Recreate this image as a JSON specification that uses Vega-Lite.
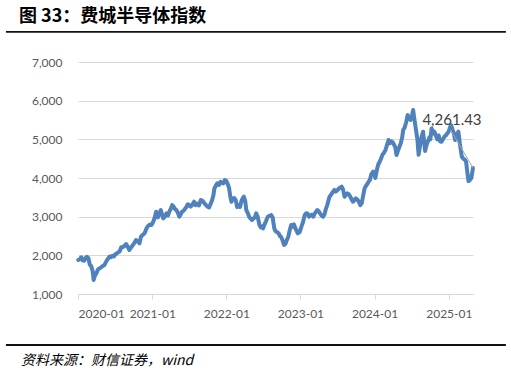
{
  "$schema": "https://vega.github.io/schema/vega-lite/v6.json",
  "padding": {"left": 5, "right": 1, "top": 8, "bottom": 0},
  "background": "white",
  "width": 395,
  "height": 232,
  "title": {"text": "图 33：费城半导体指数", "anchor": "start", "frame": "bounds", "dx": 13, "font": "Noto Sans CJK SC", "fontSize": 18, "fontWeight": "bold", "color": "#000000", "offset": 5},
  "config": {"view": {"stroke": null}, "font": "Lato", "axisY": {"labelOverlap": false, "tickCount": 7}},
  "datasets": {
    "sox": [
      {"date": "2020-01-02", "value": 1880}, {"date": "2020-01-10", "value": 1900}, {"date": "2020-01-17", "value": 1950}, {"date": "2020-01-24", "value": 1870}, {"date": "2020-01-31", "value": 1860},
      {"date": "2020-02-07", "value": 1930}, {"date": "2020-02-14", "value": 1960}, {"date": "2020-02-21", "value": 1930}, {"date": "2020-02-28", "value": 1760},
      {"date": "2020-03-06", "value": 1720}, {"date": "2020-03-13", "value": 1600}, {"date": "2020-03-18", "value": 1362}, {"date": "2020-03-25", "value": 1480},
      {"date": "2020-04-01", "value": 1540}, {"date": "2020-04-09", "value": 1640}, {"date": "2020-04-16", "value": 1663}, {"date": "2020-04-24", "value": 1690},
      {"date": "2020-05-01", "value": 1720}, {"date": "2020-05-10", "value": 1750}, {"date": "2020-05-15", "value": 1800}, {"date": "2020-05-22", "value": 1870}, {"date": "2020-05-29", "value": 1922},
      {"date": "2020-06-05", "value": 1970}, {"date": "2020-06-12", "value": 1950}, {"date": "2020-06-19", "value": 1990}, {"date": "2020-06-26", "value": 1970},
      {"date": "2020-07-03", "value": 2030}, {"date": "2020-07-10", "value": 2050}, {"date": "2020-07-17", "value": 2080}, {"date": "2020-07-24", "value": 2100}, {"date": "2020-08-01", "value": 2207},
      {"date": "2020-08-07", "value": 2210}, {"date": "2020-08-14", "value": 2230}, {"date": "2020-08-25", "value": 2293},
      {"date": "2020-09-04", "value": 2200}, {"date": "2020-09-10", "value": 2138}, {"date": "2020-09-18", "value": 2200}, {"date": "2020-09-25", "value": 2250},
      {"date": "2020-10-02", "value": 2300}, {"date": "2020-10-13", "value": 2396}, {"date": "2020-10-20", "value": 2360}, {"date": "2020-10-30", "value": 2310},
      {"date": "2020-11-06", "value": 2480}, {"date": "2020-11-13", "value": 2520}, {"date": "2020-11-24", "value": 2569},
      {"date": "2020-12-04", "value": 2700}, {"date": "2020-12-11", "value": 2760}, {"date": "2020-12-18", "value": 2790}, {"date": "2020-12-28", "value": 2784},
      {"date": "2021-01-08", "value": 2900}, {"date": "2021-01-14", "value": 3000}, {"date": "2021-01-20", "value": 3128}, {"date": "2021-01-29", "value": 2980},
      {"date": "2021-02-05", "value": 3090}, {"date": "2021-02-12", "value": 3170}, {"date": "2021-02-18", "value": 3060}, {"date": "2021-02-24", "value": 2957},
      {"date": "2021-03-04", "value": 3000}, {"date": "2021-03-12", "value": 3085}, {"date": "2021-03-19", "value": 3030}, {"date": "2021-03-26", "value": 3130},
      {"date": "2021-04-02", "value": 3200}, {"date": "2021-04-09", "value": 3300}, {"date": "2021-04-16", "value": 3260}, {"date": "2021-04-23", "value": 3200}, {"date": "2021-04-30", "value": 3170},
      {"date": "2021-05-07", "value": 3100}, {"date": "2021-05-14", "value": 3000}, {"date": "2021-05-21", "value": 3060}, {"date": "2021-05-28", "value": 3130},
      {"date": "2021-06-04", "value": 3150}, {"date": "2021-06-11", "value": 3200}, {"date": "2021-06-18", "value": 3250}, {"date": "2021-06-25", "value": 3320},
      {"date": "2021-07-02", "value": 3300}, {"date": "2021-07-09", "value": 3260}, {"date": "2021-07-16", "value": 3300}, {"date": "2021-07-26", "value": 3387},
      {"date": "2021-08-02", "value": 3300}, {"date": "2021-08-09", "value": 3340}, {"date": "2021-08-19", "value": 3290}, {"date": "2021-08-28", "value": 3430},
      {"date": "2021-09-03", "value": 3420}, {"date": "2021-09-10", "value": 3380}, {"date": "2021-09-17", "value": 3330}, {"date": "2021-09-24", "value": 3290},
      {"date": "2021-10-01", "value": 3258}, {"date": "2021-10-08", "value": 3240}, {"date": "2021-10-15", "value": 3330}, {"date": "2021-10-22", "value": 3420}, {"date": "2021-10-29", "value": 3550},
      {"date": "2021-11-03", "value": 3732}, {"date": "2021-11-10", "value": 3800}, {"date": "2021-11-17", "value": 3862}, {"date": "2021-11-26", "value": 3820},
      {"date": "2021-12-03", "value": 3900}, {"date": "2021-12-10", "value": 3880}, {"date": "2021-12-17", "value": 3860}, {"date": "2021-12-24", "value": 3948}, {"date": "2021-12-31", "value": 3930},
      {"date": "2022-01-07", "value": 3850}, {"date": "2022-01-14", "value": 3750}, {"date": "2022-01-21", "value": 3500}, {"date": "2022-01-26", "value": 3387},
      {"date": "2022-02-02", "value": 3470}, {"date": "2022-02-09", "value": 3480}, {"date": "2022-02-16", "value": 3430}, {"date": "2022-02-23", "value": 3250},
      {"date": "2022-03-02", "value": 3300}, {"date": "2022-03-09", "value": 3250}, {"date": "2022-03-16", "value": 3400}, {"date": "2022-03-23", "value": 3480}, {"date": "2022-03-28", "value": 3516},
      {"date": "2022-04-04", "value": 3400}, {"date": "2022-04-09", "value": 3172}, {"date": "2022-04-16", "value": 3100}, {"date": "2022-04-23", "value": 3000}, {"date": "2022-04-30", "value": 2950},
      {"date": "2022-05-07", "value": 2914}, {"date": "2022-05-14", "value": 2950}, {"date": "2022-05-21", "value": 2980}, {"date": "2022-05-28", "value": 3087},
      {"date": "2022-06-04", "value": 3000}, {"date": "2022-06-13", "value": 2784}, {"date": "2022-06-20", "value": 2720}, {"date": "2022-06-27", "value": 2750},
      {"date": "2022-07-01", "value": 2698}, {"date": "2022-07-08", "value": 2800}, {"date": "2022-07-15", "value": 2880}, {"date": "2022-07-24", "value": 3000}, {"date": "2022-07-31", "value": 3020},
      {"date": "2022-08-05", "value": 3030}, {"date": "2022-08-10", "value": 3043}, {"date": "2022-08-17", "value": 2980}, {"date": "2022-08-25", "value": 2698},
      {"date": "2022-09-01", "value": 2620}, {"date": "2022-09-08", "value": 2600}, {"date": "2022-09-15", "value": 2570}, {"date": "2022-09-22", "value": 2500}, {"date": "2022-09-27", "value": 2482},
      {"date": "2022-10-04", "value": 2400}, {"date": "2022-10-12", "value": 2267}, {"date": "2022-10-19", "value": 2300}, {"date": "2022-10-26", "value": 2400},
      {"date": "2022-11-02", "value": 2482}, {"date": "2022-11-09", "value": 2650}, {"date": "2022-11-16", "value": 2784}, {"date": "2022-11-23", "value": 2740}, {"date": "2022-11-30", "value": 2800},
      {"date": "2022-12-07", "value": 2698}, {"date": "2022-12-14", "value": 2620}, {"date": "2022-12-19", "value": 2569}, {"date": "2022-12-28", "value": 2600},
      {"date": "2023-01-06", "value": 2750}, {"date": "2023-01-13", "value": 2850}, {"date": "2023-01-22", "value": 3043}, {"date": "2023-01-29", "value": 3087},
      {"date": "2023-02-05", "value": 3080}, {"date": "2023-02-12", "value": 3000}, {"date": "2023-02-19", "value": 3030}, {"date": "2023-02-26", "value": 3050},
      {"date": "2023-03-05", "value": 3000}, {"date": "2023-03-12", "value": 3080}, {"date": "2023-03-19", "value": 3130}, {"date": "2023-03-25", "value": 3172},
      {"date": "2023-04-01", "value": 3140}, {"date": "2023-04-08", "value": 3080}, {"date": "2023-04-15", "value": 3030}, {"date": "2023-04-22", "value": 3000}, {"date": "2023-04-29", "value": 3050},
      {"date": "2023-05-06", "value": 3200}, {"date": "2023-05-13", "value": 3300}, {"date": "2023-05-24", "value": 3516}, {"date": "2023-05-31", "value": 3560},
      {"date": "2023-06-07", "value": 3620}, {"date": "2023-06-17", "value": 3690}, {"date": "2023-06-24", "value": 3650},
      {"date": "2023-07-01", "value": 3680}, {"date": "2023-07-08", "value": 3720}, {"date": "2023-07-15", "value": 3750}, {"date": "2023-07-23", "value": 3776}, {"date": "2023-07-30", "value": 3700},
      {"date": "2023-08-06", "value": 3516}, {"date": "2023-08-13", "value": 3560}, {"date": "2023-08-20", "value": 3603}, {"date": "2023-08-27", "value": 3580},
      {"date": "2023-09-03", "value": 3520}, {"date": "2023-09-10", "value": 3450}, {"date": "2023-09-16", "value": 3387}, {"date": "2023-09-23", "value": 3420}, {"date": "2023-09-30", "value": 3473},
      {"date": "2023-10-07", "value": 3450}, {"date": "2023-10-14", "value": 3400}, {"date": "2023-10-23", "value": 3300}, {"date": "2023-10-30", "value": 3350},
      {"date": "2023-11-06", "value": 3550}, {"date": "2023-11-13", "value": 3732}, {"date": "2023-11-20", "value": 3800}, {"date": "2023-11-27", "value": 3850},
      {"date": "2023-12-02", "value": 3900}, {"date": "2023-12-09", "value": 3948}, {"date": "2023-12-16", "value": 4100}, {"date": "2023-12-25", "value": 4163}, {"date": "2023-12-31", "value": 4120},
      {"date": "2024-01-05", "value": 4000}, {"date": "2024-01-12", "value": 4200}, {"date": "2024-01-19", "value": 4350}, {"date": "2024-01-26", "value": 4421},
      {"date": "2024-02-02", "value": 4500}, {"date": "2024-02-09", "value": 4600}, {"date": "2024-02-16", "value": 4650}, {"date": "2024-02-24", "value": 4724},
      {"date": "2024-03-02", "value": 4850}, {"date": "2024-03-10", "value": 4982}, {"date": "2024-03-17", "value": 4900}, {"date": "2024-03-24", "value": 4950}, {"date": "2024-03-31", "value": 4920},
      {"date": "2024-04-07", "value": 4850}, {"date": "2024-04-12", "value": 4800}, {"date": "2024-04-18", "value": 4594}, {"date": "2024-04-25", "value": 4700},
      {"date": "2024-05-02", "value": 4800}, {"date": "2024-05-09", "value": 4900}, {"date": "2024-05-16", "value": 5050}, {"date": "2024-05-21", "value": 5240}, {"date": "2024-05-28", "value": 5300},
      {"date": "2024-06-05", "value": 5450}, {"date": "2024-06-12", "value": 5628}, {"date": "2024-06-19", "value": 5542}, {"date": "2024-06-26", "value": 5500},
      {"date": "2024-07-03", "value": 5600}, {"date": "2024-07-09", "value": 5758}, {"date": "2024-07-16", "value": 5500}, {"date": "2024-07-23", "value": 5250}, {"date": "2024-07-30", "value": 5000},
      {"date": "2024-08-05", "value": 4600}, {"date": "2024-08-10", "value": 4766}, {"date": "2024-08-17", "value": 5000}, {"date": "2024-08-27", "value": 5197},
      {"date": "2024-09-03", "value": 4850}, {"date": "2024-09-06", "value": 4700}, {"date": "2024-09-13", "value": 4850}, {"date": "2024-09-20", "value": 4950}, {"date": "2024-09-27", "value": 5050},
      {"date": "2024-10-02", "value": 5000}, {"date": "2024-10-08", "value": 5283}, {"date": "2024-10-15", "value": 5150}, {"date": "2024-10-22", "value": 5197}, {"date": "2024-10-29", "value": 5100},
      {"date": "2024-11-05", "value": 5000}, {"date": "2024-11-12", "value": 5100}, {"date": "2024-11-19", "value": 4950}, {"date": "2024-11-26", "value": 4938},
      {"date": "2024-12-03", "value": 5000}, {"date": "2024-12-10", "value": 5070}, {"date": "2024-12-17", "value": 5100}, {"date": "2024-12-24", "value": 5150}, {"date": "2024-12-31", "value": 5200},
      {"date": "2025-01-06", "value": 5300}, {"date": "2025-01-12", "value": 5370}, {"date": "2025-01-19", "value": 5250}, {"date": "2025-01-26", "value": 5150},
      {"date": "2025-02-01", "value": 4982}, {"date": "2025-02-08", "value": 5050}, {"date": "2025-02-12", "value": 5150}, {"date": "2025-02-17", "value": 5197}, {"date": "2025-02-24", "value": 4900},
      {"date": "2025-03-06", "value": 4550}, {"date": "2025-03-13", "value": 4500}, {"date": "2025-03-20", "value": 4480}, {"date": "2025-03-27", "value": 4420},
      {"date": "2025-04-03", "value": 4100}, {"date": "2025-04-08", "value": 3920}, {"date": "2025-04-15", "value": 3950}, {"date": "2025-04-22", "value": 4000}, {"date": "2025-04-30", "value": 4261.43}
    ],
    "last": [{"date": "2025-04-30", "value": 4261.43}]
  },
  "layer": [
    {
      "data": {"name": "sox"},
      "mark": {"type": "line", "color": "#4F81BD", "strokeWidth": 4, "strokeJoin": "round", "strokeCap": "round"},
      "encoding": {
        "x": {
          "field": "date", "type": "temporal",
          "scale": {"domain": ["2020-01-01", "2025-04-30"]},
          "axis": {"title": null, "format": "%Y-%m", "tickCount": {"interval": "year", "step": 1}, "grid": false,
                   "domainColor": "#D9D9D9", "tickColor": "#D9D9D9", "tickSize": 5, "labelPadding": 9,
                   "labelColor": "#595959", "labelFontSize": 12, "labelFont": "Lato"}
        },
        "y": {
          "field": "value", "type": "quantitative",
          "scale": {"domain": [1000, 7000], "nice": false},
          "axis": {"title": null, "values": [1000, 2000, 3000, 4000, 5000, 6000, 7000], "tickCount": 7, "format": ",.0f", "labelOverlap": false,
                   "domain": false, "ticks": false, "tickSize": 0, "labelPadding": 16,
                   "gridColor": "#D9D9D9", "gridWidth": 1, "labelColor": "#595959", "labelFontSize": 12, "labelFont": "Lato"}
        }
      }
    },
    {
      "data": {"name": "last"},
      "mark": {"type": "rule", "color": "#A6A6A6", "strokeWidth": 1},
      "encoding": {
        "x": {"field": "date", "type": "temporal"},
        "y": {"field": "value", "type": "quantitative"},
        "x2": {"datum": {"year": 2025, "month": 1, "date": 10}},
        "y2": {"datum": 5240}
      }
    },
    {
      "data": {"name": "last"},
      "mark": {"type": "text", "dx": -21, "dy": -48, "fontSize": 15, "color": "#404040", "font": "Lato", "align": "center", "baseline": "middle"},
      "encoding": {
        "x": {"field": "date", "type": "temporal"},
        "y": {"field": "value", "type": "quantitative"},
        "text": {"field": "value", "type": "quantitative", "format": ",.2f"}
      }
    },
    {
      "data": {"name": "last"},
      "mark": {"type": "rect", "color": "#111111", "opacity": 1, "clip": false},
      "encoding": {
        "x": {"datum": {"year": 2019, "month": 1, "date": 11}, "type": "temporal"},
        "x2": {"datum": {"year": 2025, "month": 10, "date": 9}},
        "y": {"datum": 7754, "type": "quantitative"},
        "y2": {"datum": 7800}
      }
    },
    {
      "data": {"name": "last"},
      "mark": {"type": "rect", "color": "#111111", "opacity": 1, "clip": false},
      "encoding": {
        "x": {"datum": {"year": 2019, "month": 1, "date": 11}, "type": "temporal"},
        "x2": {"datum": {"year": 2025, "month": 10, "date": 9}},
        "y": {"datum": -342, "type": "quantitative"},
        "y2": {"datum": -296}
      }
    },
    {
      "data": {"name": "last"},
      "mark": {"type": "text", "clip": false, "align": "left", "baseline": "middle", "dx": 15, "font": "Noto Sans CJK SC", "fontSize": 14, "fontStyle": "italic", "color": "#000000"},
      "encoding": {
        "x": {"datum": {"year": 2019, "month": 1, "date": 11}, "type": "temporal"},
        "y": {"datum": -735, "type": "quantitative"},
        "text": {"value": "资料来源：财信证券，wind"}
      }
    }
  ]
}
